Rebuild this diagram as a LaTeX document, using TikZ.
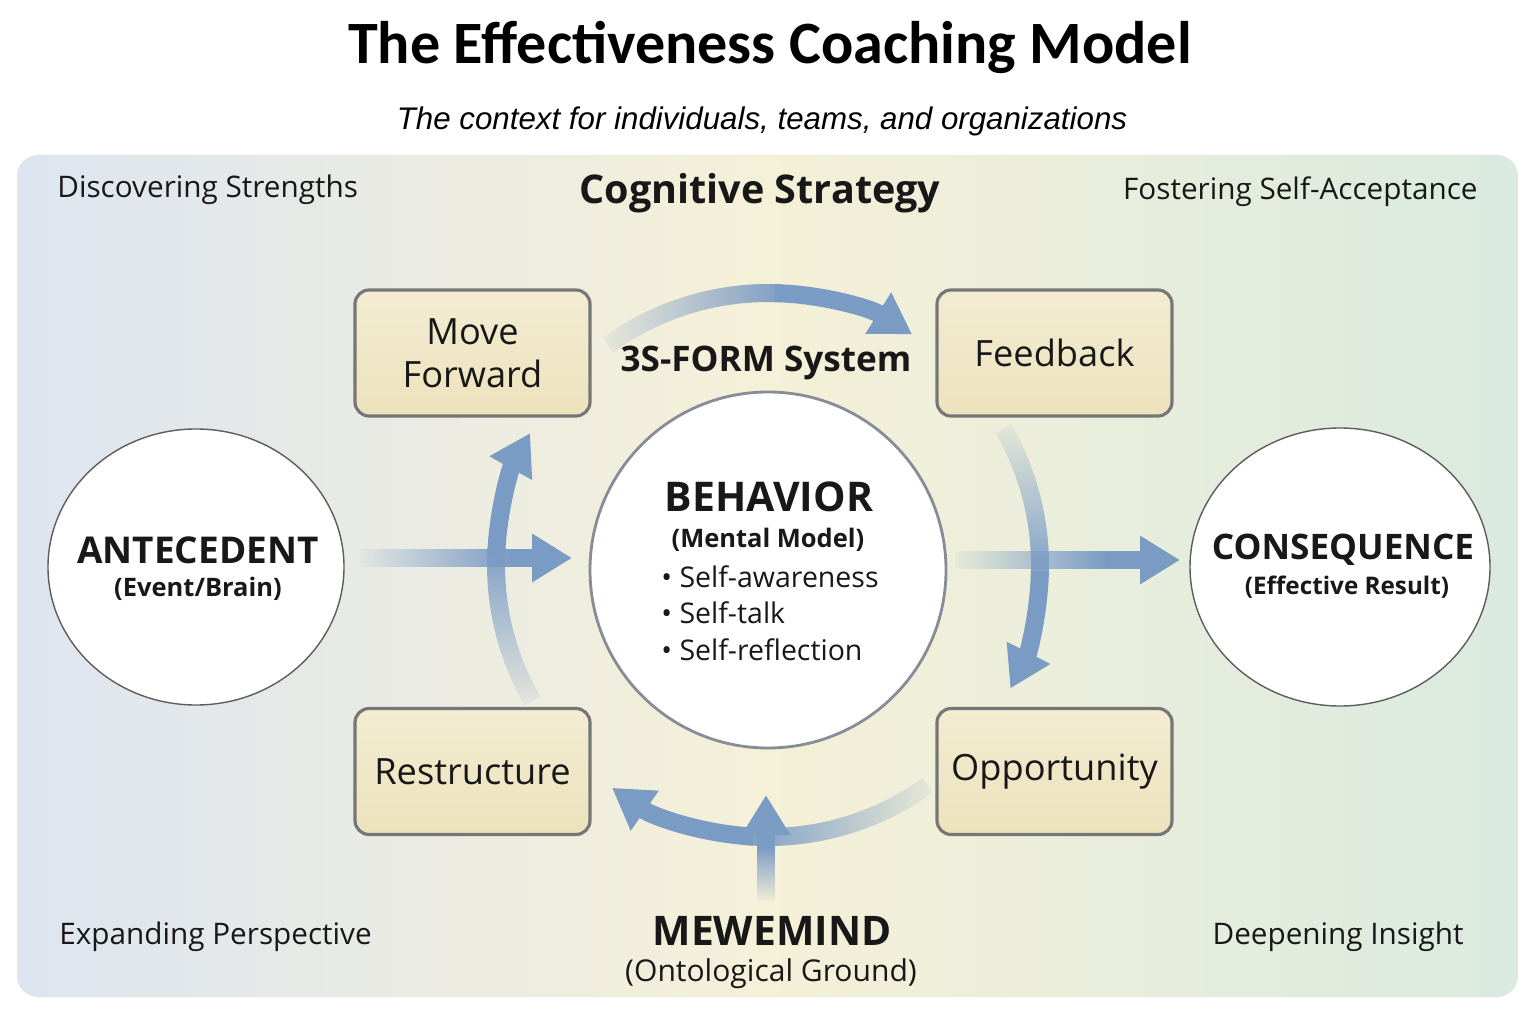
\documentclass[tikz,border=0pt]{standalone}
\usepackage{fontspec}
\setmainfont{Open Sans}
\newfontfamily\titlefont{Carlito}
\newfontfamily\subfont{Liberation Sans}
\usetikzlibrary{arrows.meta, shapes.geometric, fadings}

\definecolor{flowblue}{RGB}{122,155,196}
\definecolor{boxtop}{RGB}{243,236,210}
\definecolor{boxbot}{RGB}{236,226,188}
\definecolor{boxedge}{RGB}{118,118,118}
\definecolor{ringedge}{RGB}{135,140,150}
\definecolor{panelL}{RGB}{222,229,240}
\definecolor{panelM}{RGB}{245,240,216}
\definecolor{panelR}{RGB}{218,234,224}
\definecolor{ink}{RGB}{24,24,24}
\pgfdeclarehorizontalshading{panelshade}{100bp}{color(0bp)=(panelL); color(25bp)=(panelL); color(50bp)=(panelM); color(75bp)=(panelR); color(100bp)=(panelR)}
\tikzfading[name = fromwest, left color = transparent!95, right color = transparent!0]
\tikzfading[name = fromeast, left color = transparent!0, right color = transparent!95]
\tikzfading[name = fromnorth, top color = transparent!95, bottom color = transparent!0]
\tikzfading[name = fromsouth, top color = transparent!0, bottom color = transparent!95]

\begin{document}
\begin{tikzpicture}[
		stepbox/.style = {draw = boxedge, line width = 0.9pt, rounded corners = 4pt,
			top color = boxtop, bottom color = boxbot, minimum width = 2.35cm,
			minimum height = 1.26cm, inner sep = 2pt, align = center, text = ink,
			font = \fontsize{10.3}{12.2}\selectfont},
		bubble/.style = {ellipse, draw = ink!70, line width = 0.4pt, fill = white,
			minimum width = 2.96cm, minimum height = 2.76cm},
		corner/.style = {text = ink, font = \fontsize{8.45}{10}\selectfont},
		flow/.style = {draw = flowblue, line width = 0.18cm},
		tip/.style = {-{Triangle[width = 0.46cm, length = 0.40cm]}}
	]
		\useasboundingbox (0, 0) rectangle (15.36, 10.24);
		\fill[white] (0, 0) rectangle (15.36, 10.24);
		\shade[shading = panelshade, rounded corners = 6pt] (0.17, 0.27) rectangle (15.18, 8.69);
		%%%%%%%%%%%%%
		\node (title) at (7.70, 9.77) {\titlefont\bfseries\fontsize{17.1}{20}\selectfont The Effectiveness Coaching Model};
		\node (sub) at (7.62, 9.03) {\subfont\itshape\fontsize{8.9}{10}\selectfont The context for individuals, teams, and organizations};
		\node[corner, anchor = west] (ds) at (0.45, 8.34) {Discovering Strengths};
		\node[corner, anchor = east] (fsa) at (14.90, 8.32) {Fostering Self-Acceptance};
		\node[corner, anchor = west] (ep) at (0.47, 0.87) {Expanding Perspective};
		\node[corner, anchor = east] (di) at (14.76, 0.87) {Deepening Insight};
		\node[text = ink, font = \bfseries\fontsize{11.25}{13}\selectfont] (cog) at (7.60, 8.31) {Cognitive Strategy};
		\node[text = ink, font = \bfseries\fontsize{10}{12}\selectfont] (form) at (7.66, 6.61) {3S-FORM System};
		\node[text = ink, font = \bfseries\fontsize{11.6}{13}\selectfont] (mew) at (7.72, 0.93) {MEWEMIND};
		\node[text = ink, font = \fontsize{8.55}{10}\selectfont] (ont) at (7.71, 0.50) {(Ontological Ground)};
		%%%%%%%%%%%%%
		\coordinate (hub) at (7.68, 4.59);
		\def\R{2.72}
		\foreach \s/\e/\fd in {126/58/fromwest, 30/-27/fromnorth, -54/-125/fromeast, 210/151/fromsouth}{
			\pgfmathsetmacro\m{\s + 0.55*(\e - \s)}
			\pgfmathsetmacro\n{\m + 0.02*(\e - \s)}
			\draw[flow, path fading = \fd] ([shift = {(\s:\R)}]hub) arc[start angle = \s, end angle = \n, radius = \R];
			\draw[flow, tip, fill = flowblue] ([shift = {(\m:\R)}]hub) arc[start angle = \m, end angle = \e, radius = \R];
		}
		%%%%%%%%%%%%%
		\node[bubble] (ante) at (1.96, 4.57) {};
		\node[bubble, minimum width = 3.0cm, minimum height = 2.78cm] (cons) at (13.40, 4.57) {};
		\node[circle, draw = ringedge, line width = 0.8pt, fill = white, minimum size = 3.56cm] (beh) at (7.68, 4.54) {};
		\node[stepbox] (move) at (4.725, 6.71) {Move\\Forward};
		\node[stepbox] (feed) at (10.545, 6.71) {Feedback};
		\node[stepbox] (rest) at (4.725, 2.525) {Restructure};
		\node[stepbox] (opp) at (10.545, 2.525) {Opportunity};
		%%%%%%%%%%%%%
		\node[text = ink, font = \bfseries\fontsize{10.5}{12}\selectfont] at (1.98, 4.74) {ANTECEDENT};
		\node[text = ink, font = \bfseries\fontsize{7.25}{9}\selectfont] at (1.98, 4.35) {(Event/Brain)};
		\node[text = ink, font = \bfseries\fontsize{10}{12}\selectfont] at (13.43, 4.74) {CONSEQUENCE};
		\node[text = ink, font = \bfseries\fontsize{6.9}{9}\selectfont] at (13.47, 4.37) {(Effective Result)};
		\node[text = ink, font = \bfseries\fontsize{11.65}{14}\selectfont] at (7.69, 5.27) {BEHAVIOR};
		\node[text = ink, font = \bfseries\fontsize{7.25}{9}\selectfont] at (7.68, 4.84) {(Mental Model)};
		\node[text = ink, font = \fontsize{8.1}{10}\selectfont, anchor = west] at (6.49, 4.47) {\textbullet\ Self-awareness};
		\node[text = ink, font = \fontsize{8.1}{10}\selectfont, anchor = west] at (6.49, 4.11) {\textbullet\ Self-talk};
		\node[text = ink, font = \fontsize{8.1}{10}\selectfont, anchor = west] at (6.49, 3.74) {\textbullet\ Self-reflection};
		%%%%%%%%%%%%%
		\coordinate (lt) at (3.60, 4.66);
		\coordinate (lm) at (5.10, 4.66);
		\coordinate (le) at (5.72, 4.66);
		\coordinate (rt) at (9.55, 4.64);
		\coordinate (rm) at (11.05, 4.64);
		\coordinate (re) at (11.80, 4.64);
		\coordinate (bt) at (7.66, 1.24);
		\coordinate (bm) at (7.66, 1.75);
		\coordinate (be) at (7.66, 2.29);
		\fill[flowblue, path fading = fromwest] ([yshift = -0.09cm]lt) rectangle ([yshift = 0.09cm, xshift = 0.03cm]lm);
		\fill[flowblue, path fading = fromwest] ([yshift = -0.09cm]rt) rectangle ([yshift = 0.09cm, xshift = 0.03cm]rm);
		\fill[flowblue, path fading = fromsouth] ([xshift = -0.09cm]bt) rectangle ([xshift = 0.09cm, yshift = 0.03cm]bm);
		\draw[flow, tip, fill = flowblue] (lm) -- (le);
		\draw[flow, tip, fill = flowblue] (rm) -- (re);
		\draw[flow, tip, fill = flowblue] (bm) -- (be);
\end{tikzpicture}
\end{document}
